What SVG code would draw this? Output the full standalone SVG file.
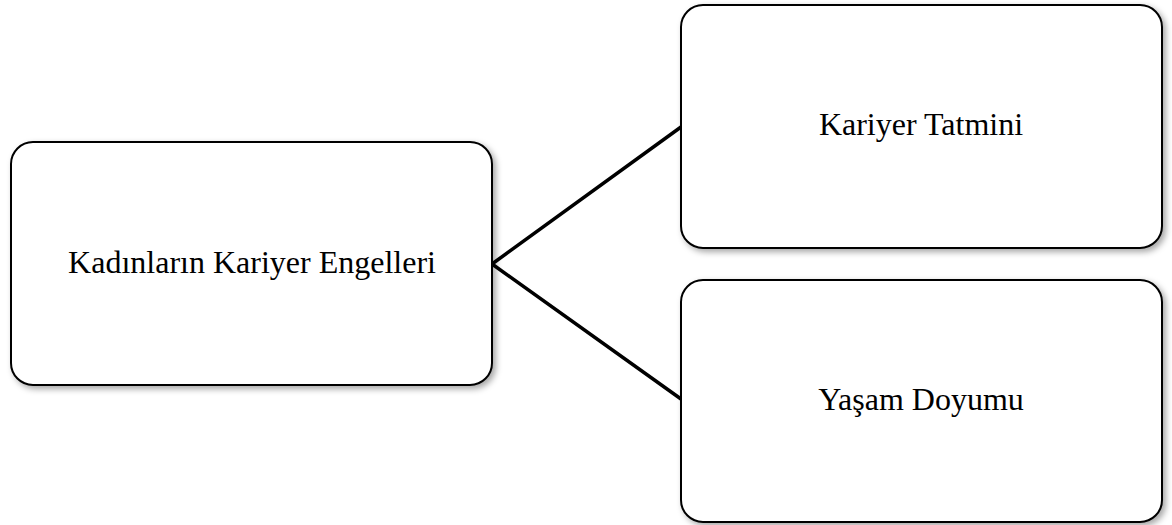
<svg xmlns="http://www.w3.org/2000/svg" width="1172" height="525" viewBox="0 0 1172 525">
<style>
.box{fill:#fff;stroke:#000;stroke-width:2;filter:url(#sh)}
.lbl{font-family:"Liberation Serif","Times New Roman",serif;font-size:32px;fill:#000;text-anchor:middle}
.con{stroke:#000;stroke-width:3.5;fill:none;stroke-linecap:round;stroke-linejoin:round}
</style>
<defs>
<filter id="sh" x="-10%" y="-10%" width="120%" height="125%">
<feDropShadow dx="3" dy="3" stdDeviation="3" flood-color="#000" flood-opacity="0.35"/>
</filter>
</defs>
<rect width="1172" height="525" fill="#fff"/>
<g id="connectors">
<polyline class="con" points="681,127 492,264 681,399"/>
</g>
<g id="node-engeller">
<rect class="box" x="11" y="142" width="481" height="243" rx="22"/>
<text class="lbl" x="252" y="273">Kadınların Kariyer Engelleri</text>
</g>
<g id="node-tatmin">
<rect class="box" x="681" y="5" width="481" height="243" rx="22"/>
<text class="lbl" x="921" y="135">Kariyer Tatmini</text>
</g>
<g id="node-doyum">
<rect class="box" x="681" y="280" width="481" height="242" rx="22"/>
<text class="lbl" x="921" y="410">Yaşam Doyumu</text>
</g>
</svg>
